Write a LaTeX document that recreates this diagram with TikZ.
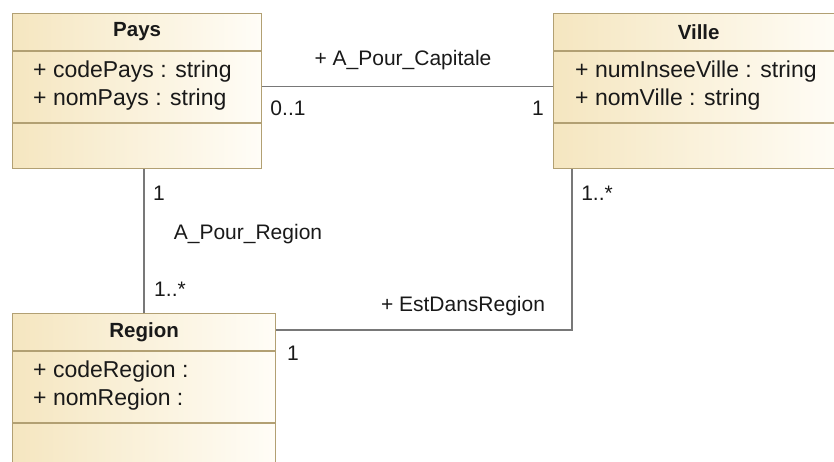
\documentclass[tikz,border=0pt]{standalone}
\usepackage{fontspec}
\setmainfont{Liberation Sans}
\usetikzlibrary{positioning}
\definecolor{umlfill}{RGB}{245,230,192}
\definecolor{umlfade}{RGB}{255,253,247}
\definecolor{umlline}{RGB}{178,160,115}
\definecolor{assocgray}{RGB}{120,120,120}
\tikzset{
 classbox/.style={draw=umlline,line width=1.3pt,left color=umlfill,right color=umlfade,
   minimum width=#1,minimum height=155pt,anchor=north west,inner sep=0pt},
 compart/.style={umlline,line width=1.3pt},
 classname/.style={font=\fontsize{20.5}{24}\selectfont\bfseries,text=black!90},
 attrs/.style={font=\fontsize{23}{28}\selectfont,align=left,anchor=west,inner sep=0pt,text=black!90},
 assoc/.style={draw=assocgray,line width=1.6pt},
 role/.style={font=\fontsize{21}{24}\selectfont,inner sep=0pt,text=black!90},
}
\begin{document}
\begin{tikzpicture}[x=1pt,y=-1pt]
\useasboundingbox (0,0) rectangle (834,461);
\clip (0,0) rectangle (834,461);
% the three classes
\node[classbox=249pt] (pays) at (12,13) {};
\node[classbox=290pt] (ville) at (553,13) {};
\node[classbox=263pt] (region) at (12,313) {};
\foreach \c in {pays,ville,region}{ % header and attribute compartments
 \draw[compart] ([yshift=-38pt]\c.north west) -- ([yshift=-38pt]\c.north east);
 \draw[compart] ([yshift=-110pt]\c.north west) -- ([yshift=-110pt]\c.north east);}
\node[classname] (paysname) at ([yshift=-19pt]pays.north) {Pays};
\node[classname] (villename) at ([yshift=-19pt]ville.north) {Ville};
\node[classname] (regionname) at ([yshift=-19pt]region.north) {Region};
\node[attrs] (paysattr) at ([xshift=21pt,yshift=-72.5pt]pays.north west) {+ codePays : string\\+ nomPays : string};
\node[attrs] (villeattr) at ([xshift=22pt,yshift=-72.5pt]ville.north west) {+ numInseeVille : string\\+ nomVille : string};
\node[attrs] (regionattr) at ([xshift=21pt,yshift=-72.5pt]region.north west) {+ codeRegion :\\+ nomRegion :};
% associations
\draw[assoc] ([yshift=4.5pt]pays.east) -- ([yshift=4.5pt]ville.west);
\draw[assoc] (region.north) -- (region.north |- pays.south);
\draw[assoc] ([xshift=19pt]ville.south west) |- ([yshift=-17pt]region.north east);
% association names and multiplicities
\node[role] (capitale) at (403,60) {+ A\_Pour\_Capitale};
\node[role] (capzero) at (288,108) {0..1};
\node[role] (capone) at (538,108) {1};
\node[role] (regpays) at (159,193) {1};
\node[role] (aregion) at (248,234) {A\_Pour\_Region};
\node[role] (regmany) at (170,289) {1..*};
\node[role] (villemany) at (597,193) {1..*};
\node[role] (estdans) at (463,306) {+ EstDansRegion};
\node[role] (regone) at (293,353) {1};
\end{tikzpicture}
\end{document}
